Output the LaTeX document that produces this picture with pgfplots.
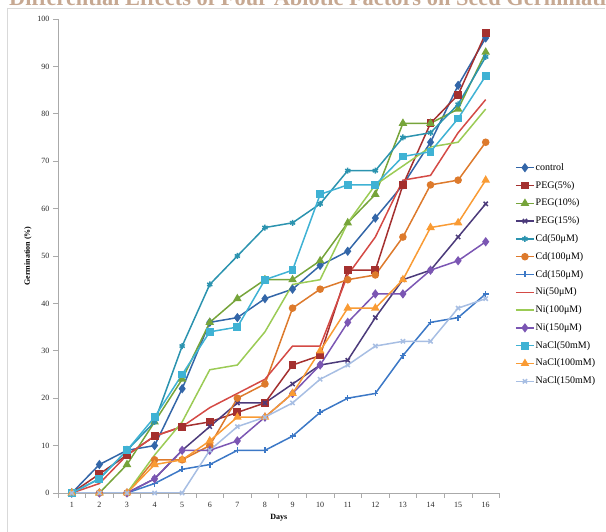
\documentclass[border=0pt]{standalone}
\usepackage{pgfplots}
\pgfplotsset{compat=1.18}
\usepackage{fontspec}
\setmainfont{Liberation Serif}
\definecolor{ttl}{RGB}{198,168,146}
\definecolor{frm}{RGB}{217,217,217}
\definecolor{axc}{RGB}{170,170,170}
\definecolor{cctrl}{HTML}{3366A8}
\definecolor{cpegA}{HTML}{A4302F}
\definecolor{cpegB}{HTML}{76A43A}
\definecolor{cpegC}{HTML}{4B3A7A}
\definecolor{ccdA}{HTML}{2B93AF}
\definecolor{ccdB}{HTML}{DD7A2C}
\definecolor{ccdC}{HTML}{3C78C6}
\definecolor{cniA}{HTML}{D44A45}
\definecolor{cniB}{HTML}{9BCB55}
\definecolor{cniC}{HTML}{7B56B3}
\definecolor{cnaA}{HTML}{3FB2D4}
\definecolor{cnaB}{HTML}{F99B34}
\definecolor{cnaC}{HTML}{A7BEE3}
\pgfplotstableread{
day control pegA pegB pegC cdA cdB cdC niA niB niC naA naB naC
1  0  0  0  0  0  0  0  0  0  0  0  0  0
2  6  4  0  0  3  0  0  2  0  0  3  0  0
3  9  8  6  0  9  0  0  8  0  0  9  0  0
4  10 12 15 3  15 7  2  12 8  3  16 6  0
5  22 14 24 9  31 7  5  14 15 9  25 7  0
6  36 15 36 14 44 10 6  18 26 9  34 11 9
7  37 17 41 19 50 20 9  21 27 11 35 16 14
8  41 19 45 19 56 23 9  24 34 16 45 16 16
9  43 27 45 23 57 39 12 31 44 21 47 21 19
10 48 29 49 27 61 43 17 31 45 27 63 30 24
11 51 47 57 28 68 45 20 46 57 36 65 39 27
12 58 47 63 37 68 46 21 54 65 42 65 39 31
13 65 65 78 45 75 54 29 66 69 42 71 45 32
14 74 78 78 47 76 65 36 67 73 47 72 56 32
15 86 84 81 54 82 66 37 76 74 49 79 57 39
16 96 97 93 61 92 74 42 83 81 53 88 66 41
}\data
\begin{document}
\begin{tikzpicture}
\draw[frm,line width=0.8pt] (7pt,524pt) -- (605pt,524pt);
\draw[frm,line width=0.8pt] (7pt,524pt) -- (7pt,0pt);
\node[anchor=base west,inner sep=0pt,text=ttl,font=\fontsize{22.4}{24}\selectfont\bfseries] at (9pt,526pt) {Differential Effects of Four Abiotic Factors on Seed Germination};
\begin{axis}[
  at={(58pt,39pt)}, anchor=south west,
  scale only axis, width=441.5pt, height=474pt,
  xmin=0.5, xmax=16.5, ymin=0, ymax=100,
  axis lines*=left,
  axis line style={axc,line width=0.8pt},
  xtick={1,...,16}, ytick={0,10,...,100},
  minor xtick={0.5,1.5,...,16.5},
  major x tick style={draw=none},
  tick align=outside,
  major tick length=5pt, minor tick length=5pt,
  tick style={axc,line width=0.6pt},
  ticklabel style={font=\fontsize{8}{9}\selectfont, text=black!85},
  /pgf/number format/assume math mode=true,
  xticklabel style={yshift=-1pt},
  xlabel={Days}, ylabel={Germination (\%)},
  xlabel style={font=\fontsize{8}{9}\selectfont\bfseries, at={(axis description cs:0.5,-0.053)}, anchor=center},
  ylabel style={font=\fontsize{8}{9}\selectfont\bfseries, at={(axis description cs:-0.068,0.5)}, anchor=center},
  every axis plot/.append style={line width=1.5pt, mark size=3pt, mark options={solid}},
  legend cell align=left,
  legend style={draw=none, fill=none, inner sep=0pt, at={(1.0351,0.6983)}, anchor=north west,
    font=\fontsize{10}{11}\selectfont, row sep=6.8pt,
    nodes={inner sep=1pt, text height=7pt, text depth=2pt}},
  legend image code/.code={\draw[mark repeat=2,mark phase=2,#1] plot coordinates {(0pt,0pt) (9pt,0pt) (18pt,0pt)};},
]
\addplot[cctrl, mark=diamond*, mark size=3.5pt] table[x=day,y=control]{\data};
\addlegendentry{control}
\addplot[cpegA, mark=square*, mark size=3.2pt] table[x=day,y=pegA]{\data};
\addlegendentry{PEG(5\%)}
\addplot[cpegB, mark=triangle*, mark size=3.5pt] table[x=day,y=pegB]{\data};
\addlegendentry{PEG(10\%)}
\addplot[cpegC, mark=x, mark size=3pt] table[x=day,y=pegC]{\data};
\addlegendentry{PEG(15\%)}
\addplot[ccdA, mark=asterisk, mark size=3pt] table[x=day,y=cdA]{\data};
\addlegendentry{Cd(50μM)}
\addplot[ccdB, mark=*, mark size=3pt] table[x=day,y=cdB]{\data};
\addlegendentry{Cd(100μM)}
\addplot[ccdC, mark=+, mark size=3pt] table[x=day,y=cdC]{\data};
\addlegendentry{Cd(150μM)}
\addplot[cniA, no marks] table[x=day,y=niA]{\data};
\addlegendentry{Ni(50μM)}
\addplot[cniB, no marks] table[x=day,y=niB]{\data};
\addlegendentry{Ni(100μM)}
\addplot[cniC, mark=diamond*, mark size=3.5pt] table[x=day,y=niC]{\data};
\addlegendentry{Ni(150μM)}
\addplot[cnaA, mark=square*, mark size=3.2pt] table[x=day,y=naA]{\data};
\addlegendentry{NaCl(50mM)}
\addplot[cnaB, mark=triangle*, mark size=3.5pt] table[x=day,y=naB]{\data};
\addlegendentry{NaCl(100mM)}
\addplot[cnaC, mark=x, mark size=3pt] table[x=day,y=naC]{\data};
\addlegendentry{NaCl(150mM)}
\end{axis}
\pgfresetboundingbox
\useasboundingbox (0pt,0pt) rectangle (606pt,532pt);
\end{tikzpicture}
\end{document}
